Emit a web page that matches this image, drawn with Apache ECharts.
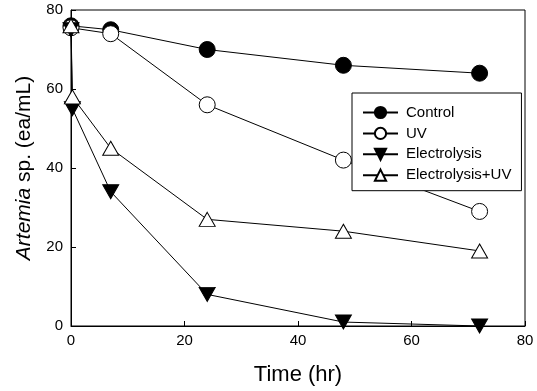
<!DOCTYPE html>
<html>
<head>
<meta charset="utf-8">
<script src="https://cdn.jsdelivr.net/npm/echarts@6/dist/echarts.min.js"></script>
<style>
html,body{margin:0;padding:0;background:#fff;}
#chart{width:537px;height:391px;}
</style>
</head>
<body>
<div id="chart"></div>
<script>
const xTicks = [0, 20, 40, 60, 80];
const yTicks = [0, 20, 40, 60, 80];
const seriesNames = ['Control', 'UV', 'Electrolysis', 'Electrolysis+UV'];
const controlTime = [0, 7, 24, 48, 72];
const controlValues = [76, 75, 70, 66, 64];
const uvTime = [0, 7, 24, 48, 72];
const uvValues = [75.5, 74, 56, 42, 29];
const elecTime = [0, 0.25, 7, 24, 48, 72];
const elecValues = [75, 55, 34, 8, 1, 0];
const elecUvTime = [0, 0.25, 7, 24, 48, 72];
const elecUvValues = [76, 58, 45, 27, 24, 19];

function pairs(t, v) { return t.map((x, i) => [x, v[i]]); }

const font = 'Liberation Sans, Arial, sans-serif';
const chart = echarts.init(document.getElementById('chart'), null, {renderer: 'canvas'});

function mkSeries(name, data, symbol, fill, size, rotate) {
  return {
    name: name, type: 'line', data: data, symbol: symbol, symbolSize: size,
    symbolRotate: rotate || 0, clip: false, showAllSymbol: true,
    lineStyle: {color: '#000', width: 1},
    itemStyle: {color: fill, borderColor: '#000', borderWidth: 1},
    emphasis: {disabled: true},
    animation: false
  };
}

chart.setOption({
  animation: false,
  grid: {left: 71, right: 12, top: 10, bottom: 64, show: true, borderColor: '#000', borderWidth: 1},
  legend: {
    data: seriesNames,
    orient: 'vertical',
    left: 352, top: 93,
    padding: [12, 10, 8, 10],
    itemGap: 5.9, itemWidth: 35, itemHeight: 14,
    borderColor: '#000', borderWidth: 1,
    backgroundColor: '#fff',
    textStyle: {fontFamily: font, fontSize: 15, color: '#000', padding: [0, 0, 0, 3]},
    symbolRotate: 'inherit'
  },
  xAxis: {
    type: 'value', min: 0, max: 80, interval: 20,
    name: 'Time (hr)', nameLocation: 'middle', nameGap: 38,
    nameTextStyle: {fontFamily: font, fontSize: 22, color: '#000'},
    axisLine: {show: true, onZero: false, lineStyle: {color: '#000', width: 1}},
    axisTick: {show: true, inside: true, length: 5, lineStyle: {color: '#000', width: 1}},
    axisLabel: {fontFamily: font, fontSize: 15, color: '#000', margin: 7,
      formatter: v => xTicks.includes(v) ? String(v) : ''},
    splitLine: {show: false}
  },
  yAxis: {
    type: 'value', min: 0, max: 80, interval: 20,
    name: '{i|Artemia} sp. (ea/mL)', nameLocation: 'middle', nameGap: 36,
    nameTextStyle: {fontFamily: font, fontSize: 21, color: '#000',
      rich: {i: {fontFamily: font, fontSize: 21, fontStyle: 'italic', color: '#000'}}},
    axisLine: {show: true, onZero: false, lineStyle: {color: '#000', width: 1}},
    axisTick: {show: true, inside: true, length: 5, lineStyle: {color: '#000', width: 1}},
    axisLabel: {fontFamily: font, fontSize: 15, color: '#000', margin: 8,
      formatter: v => yTicks.includes(v) ? String(v) : ''},
    splitLine: {show: false}
  },
  series: [
    mkSeries(seriesNames[0], pairs(controlTime, controlValues), 'circle', '#000', 16),
    mkSeries(seriesNames[1], pairs(uvTime, uvValues), 'circle', '#fff', 16),
    mkSeries(seriesNames[2], pairs(elecTime, elecValues), 'triangle', '#000', [16, 14], 180),
    mkSeries(seriesNames[3], pairs(elecUvTime, elecUvValues), 'triangle', '#fff', [16, 14])
  ]
});
</script>
</body>
</html>
